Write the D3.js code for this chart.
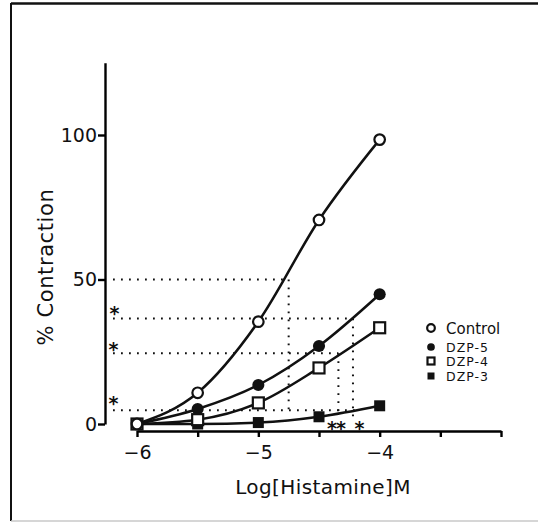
<!DOCTYPE html>
<html>
<head>
<meta charset="utf-8">
<script src="https://cdn.jsdelivr.net/npm/d3@7"></script>
<style>
  body { margin: 0; background: #fff; }
  svg { display: block; font-family: "DejaVu Sans", sans-serif; }
</style>
</head>
<body>
<script>
// log[histamine] doses
let doses = [-6, -5.5, -5, -4.5, -4];

// % contraction for each group
let control = [0, 10.8, 35.4, 70.6, 98.4];
let dzp5 = [0, 5.2, 13.5, 27.0, 44.9];
let dzp4 = [0, 1.5, 7.3, 19.4, 33.3];
let dzp3 = [0, 0, 0.5, 2.5, 6.3];

let seriesNames = ["Control", "DZP-5", "DZP-4", "DZP-3"];

// dotted guide lines (level of response, log dose where it meets the curve, bottom of drop line)
let guideLevels = [50, 36.5, 24.5, 4.8];
let guideDoses = [-4.75, -4.22, -4.34, -4.2];
let dropBottoms = [4.0, 1.5, 3.5, null];

let yTicks = [0, 50, 100];
let xTicks = [-6, -5.5, -5, -4.5, -4, -3.5, -3];
let xLabelled = [-6, -5, -4];

let W = 538, H = 525;

let svg = d3.select("body").append("svg")
    .attr("width", W)
    .attr("height", H);

// frame
svg.append("line").attr("x1", 11).attr("y1", 3).attr("x2", 11).attr("y2", 521)
    .attr("stroke", "#111").attr("stroke-width", 2);
svg.append("line").attr("x1", 11).attr("y1", 3.5).attr("x2", 538).attr("y2", 3.5)
    .attr("stroke", "#111").attr("stroke-width", 2.5);
svg.append("line").attr("x1", 11).attr("y1", 521).attr("x2", 538).attr("y2", 521)
    .attr("stroke", "#c8c8c8").attr("stroke-width", 1.5);

let x = d3.scaleLinear().domain([-6, -3]).range([137, 501]);
let y = d3.scaleLinear().domain([0, 125]).range([424, 62.75]);

// y axis
let yAxis = svg.append("g")
    .attr("transform", "translate(105,0)")
    .call(d3.axisLeft(y).tickValues(yTicks).tickSize(7).tickSizeOuter(0).tickPadding(1));
yAxis.select(".domain").attr("stroke-width", 2.4);
yAxis.selectAll(".tick line").attr("stroke-width", 2.4);
yAxis.selectAll("text").attr("font-size", 19).attr("font-family", "DejaVu Sans").attr("fill", "#111");

// x axis
let xAxis = svg.append("g")
    .attr("transform", "translate(0,431)")
    .call(d3.axisBottom(x).tickValues(xTicks).tickSize(6).tickSizeOuter(0).tickPadding(9)
        .tickFormat(d => xLabelled.includes(d) ? "\u2212" + Math.abs(d) : ""));
xAxis.select(".domain").attr("stroke-width", 2.4);
xAxis.selectAll(".tick line").attr("stroke-width", 2.4);
xAxis.selectAll("text").attr("font-size", 19).attr("font-family", "DejaVu Sans").attr("fill", "#111");

// axis titles
svg.append("text")
    .attr("transform", "translate(53,267) rotate(-90)")
    .attr("text-anchor", "middle")
    .attr("font-size", 21)
    .attr("letter-spacing", 0.6)
    .attr("fill", "#111")
    .text("% Contraction");

svg.append("text")
    .attr("x", 323)
    .attr("y", 494)
    .attr("text-anchor", "middle")
    .attr("font-size", 20)
    .attr("letter-spacing", 0.4)
    .attr("fill", "#111")
    .text("Log[Histamine]M");

// dotted guides
let dot = g => g.attr("stroke", "#111").attr("stroke-width", 2)
    .attr("stroke-dasharray", "1.8 6.2").attr("fill", "none");

guideLevels.forEach((v, i) => {
    svg.append("line")
        .attr("x1", 113).attr("x2", x(guideDoses[i]))
        .attr("y1", y(v)).attr("y2", y(v))
        .call(dot);
    if (dropBottoms[i] != null) {
        svg.append("line")
            .attr("x1", x(guideDoses[i])).attr("x2", x(guideDoses[i]))
            .attr("y1", y(v)).attr("y2", y(dropBottoms[i]))
            .call(dot);
    }
});

// significance stars
let stars = [
    { x: 114, y: y(guideLevels[1]) - 10, t: "*" },
    { x: 113, y: y(guideLevels[2]) - 8, t: "*" },
    { x: 113, y: y(guideLevels[3]) - 11, t: "*" },
    { x: 336, y: 424, t: "**" },
    { x: 359, y: 424, t: "*" }
];
svg.selectAll(".star")
    .data(stars)
  .enter().append("text")
    .attr("class", "star")
    .attr("x", d => d.x)
    .attr("y", d => d.y + 11)
    .attr("text-anchor", "middle")
    .attr("font-size", 19)
    .attr("font-weight", "bold")
    .attr("letter-spacing", -1)
    .attr("fill", "#111")
    .text(d => d.t);

// curves
let line = d3.line()
    .x(d => x(d[0]))
    .y(d => y(d[1]))
    .curve(d3.curveMonotoneX);

let allSeries = [control, dzp5, dzp4, dzp3];
allSeries.forEach(vals => {
    svg.append("path")
        .datum(doses.map((d, i) => [d, vals[i]]))
        .attr("d", line)
        .attr("fill", "none")
        .attr("stroke", "#111")
        .attr("stroke-width", 2.5);
});

// markers
function marker(g, kind, size) {
    if (kind === 0) {
        g.append("circle").attr("r", size * 0.48).attr("fill", "#fff")
            .attr("stroke", "#111").attr("stroke-width", 2.2);
    } else if (kind === 1) {
        g.append("circle").attr("r", size * 0.55).attr("fill", "#111");
    } else if (kind === 2) {
        g.append("rect").attr("x", -size / 2).attr("y", -size / 2)
            .attr("width", size).attr("height", size)
            .attr("fill", "#fff").attr("stroke", "#111").attr("stroke-width", 2.2);
    } else {
        g.append("rect").attr("x", -size / 2).attr("y", -size / 2)
            .attr("width", size).attr("height", size).attr("fill", "#111");
    }
}

// draw filled ones first so the open markers sit on top
[3, 1, 2, 0].forEach(k => {
    allSeries[k].forEach((v, i) => {
        let g = svg.append("g").attr("transform", `translate(${x(doses[i])},${y(v)})`);
        marker(g, k, 11);
    });
});

// legend
let legendY = [328, 347, 361, 376];
seriesNames.forEach((name, k) => {
    let g = svg.append("g").attr("transform", `translate(431,${legendY[k]})`);
    marker(g, k, k === 0 ? 8 : 7);
    svg.append("text")
        .attr("x", 446)
        .attr("y", legendY[k] + (k === 0 ? 5.5 : 4.5))
        .attr("font-size", k === 0 ? 15 : 12.5)
        .attr("letter-spacing", k === 0 ? 0 : 1)
        .attr("fill", "#111")
        .text(name);
});
</script>
</body>
</html>
